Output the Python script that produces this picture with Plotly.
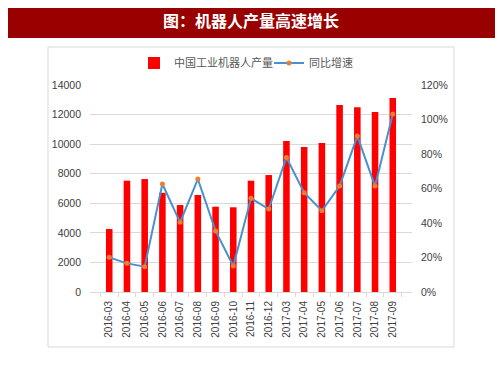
import plotly.graph_objects as go

months = ["2016-03", "2016-04", "2016-05", "2016-06", "2016-07", "2016-08", "2016-09",
          "2016-10", "2016-11", "2016-12", "2017-03", "2017-04", "2017-05", "2017-06",
          "2017-07", "2017-08", "2017-09"]
output = [4260, 7530, 7640, 6710, 5880, 6560, 5770, 5730, 7530, 7910, 10210, 9800,
          10070, 12640, 12500, 12170, 13120]
growth = [20.1, 16.6, 14.7, 62.6, 40.4, 65.5, 35.4, 15.1, 54.3, 48.1, 78.0, 57.6,
          47.1, 61.4, 90.4, 61.4, 103.2]
left_ticks = [0, 2000, 4000, 6000, 8000, 10000, 12000, 14000]
left_tick_text = [str(v) for v in left_ticks]
right_ticks = [0, 20, 40, 60, 80, 100, 120]
right_tick_text = [f"{v}%" for v in right_ticks]

OFF = 8  # page body margin
W, H = 503 - OFF, 378 - OFF
PL, PR, PT, PB = 90 - OFF, 412 - OFF, 85 - OFF, 292 - OFF


def px(x):
    return (x - OFF - PL) / (PR - PL)


def py(y):
    return (PB - (y - OFF)) / (PB - PT)


fig = go.Figure()
fig.add_trace(go.Bar(x=months, y=output, name="中国工业机器人产量",
                     marker=dict(color="#FF0000", line=dict(width=0)), yaxis="y",
                     legend="legend"))
fig.add_trace(go.Scatter(x=months, y=growth, name="同比增速", mode="lines+markers",
                         line=dict(color="#4A90D0", width=2),
                         marker=dict(color="#ED7D31", size=5),
                         yaxis="y2", legend="legend2"))

tickfont = dict(family="Arial", size=10.5, color="#404040")
legfont = dict(family="Noto Sans CJK SC", size=11, color="#595959")
fig.update_layout(
    width=W, height=H,
    margin=dict(l=PL, r=W - PR, t=PT, b=H - PB),
    paper_bgcolor="white", plot_bgcolor="white",
    bargap=0.63,
    showlegend=True,
    legend=dict(orientation="h", x=px(134), xanchor="left", y=py(63), yanchor="middle",
                font=legfont, bgcolor="rgba(0,0,0,0)", itemwidth=30),
    legend2=dict(orientation="h", x=px(269), xanchor="left", y=py(63), yanchor="middle",
                 font=legfont, bgcolor="rgba(0,0,0,0)", itemwidth=30),
    xaxis=dict(type="category", tickangle=-90, tickfont=dict(family="Arial", size=10, color="#404040"),
               showline=True, linecolor="#d9d9d9", linewidth=1, ticks="outside",
               tickson="boundaries", ticklen=4, tickcolor="#d9d9d9", showgrid=False,
               ticklabelstandoff=4),
    yaxis=dict(range=[0, 14000], tickvals=left_ticks, ticktext=left_tick_text,
               tickfont=tickfont,
               showgrid=True, gridcolor="#d9d9d9", gridwidth=1, zeroline=False,
               ticklabelstandoff=8),
    yaxis2=dict(range=[0, 120], tickvals=right_ticks, ticktext=right_tick_text,
                tickfont=tickfont, overlaying="y", side="right", showgrid=False,
                zeroline=False, ticklabelstandoff=8),
    shapes=[
        dict(type="rect", xref="paper", yref="paper", x0=px(48), x1=px(454),
             y0=py(347), y1=py(47), line=dict(color="#d9d9d9", width=1),
             fillcolor="rgba(0,0,0,0)", layer="below"),
        dict(type="rect", xref="paper", yref="paper", x0=px(4), x1=px(497),
             y0=py(38), y1=py(2), line=dict(width=0), fillcolor="#990000", layer="below"),
    ],
    annotations=[
        dict(text="<b>图：机器人产量高速增长</b>", xref="paper", yref="paper",
             x=px(251), y=py(20), xanchor="center", yanchor="middle", showarrow=False,
             font=dict(family="Noto Sans CJK SC", size=16, color="white")),
    ],
)

fig.write_html("out.html")
